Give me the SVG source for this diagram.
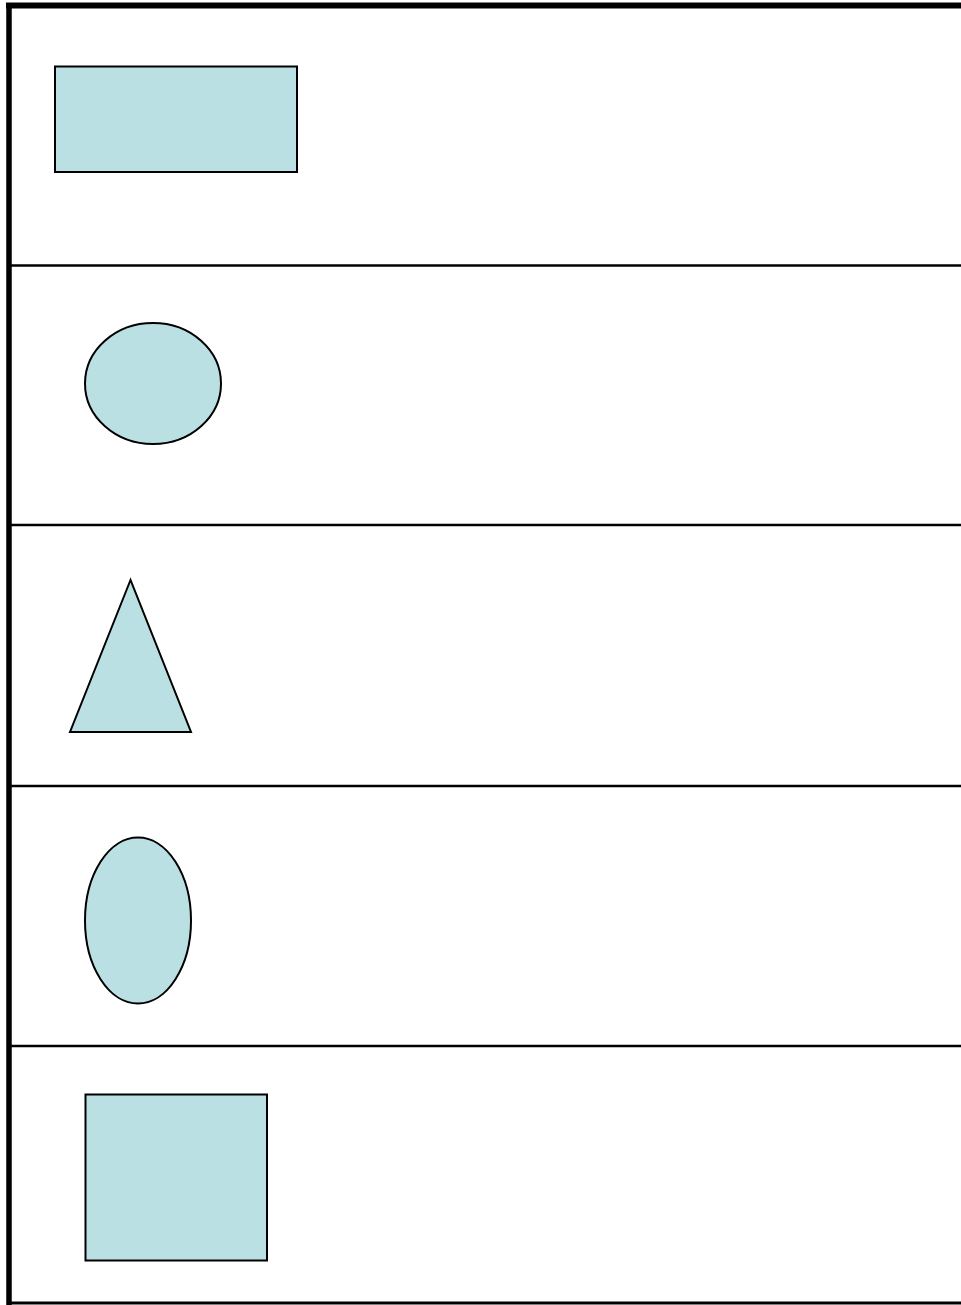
<svg xmlns="http://www.w3.org/2000/svg" width="961" height="1305" viewBox="0 0 961 1305">
<style>
.shape{fill:#BBE0E3;stroke:#000;stroke-width:2}
.div{stroke:#000;stroke-width:2.5;fill:none}
</style>
<rect width="961" height="1305" fill="#fff"/>
<g id="frame">
<line class="div" x1="9" y1="265.5" x2="961" y2="265.5"/>
<line class="div" x1="9" y1="525" x2="961" y2="525"/>
<line class="div" x1="9" y1="786" x2="961" y2="786"/>
<line class="div" x1="9" y1="1046" x2="961" y2="1046"/>
<line x1="9" y1="1303" x2="961" y2="1303" stroke="#000" stroke-width="3"/>
<line x1="6" y1="5.5" x2="961" y2="5.5" stroke="#000" stroke-width="6"/>
<line x1="9" y1="3" x2="9" y2="1305" stroke="#000" stroke-width="5.5"/>
</g>
<g id="rect1"><rect class="shape" x="55" y="66.5" width="242" height="105.5"/></g>
<g id="ellipse1"><ellipse class="shape" cx="153" cy="383.5" rx="68" ry="60.5"/></g>
<g id="triangle"><polygon class="shape" points="130.5,580 70,732 191,732"/></g>
<g id="ellipse2"><ellipse class="shape" cx="138" cy="920.5" rx="53" ry="83"/></g>
<g id="square"><rect class="shape" x="85.5" y="1094.5" width="181.5" height="166"/></g>
</svg>
